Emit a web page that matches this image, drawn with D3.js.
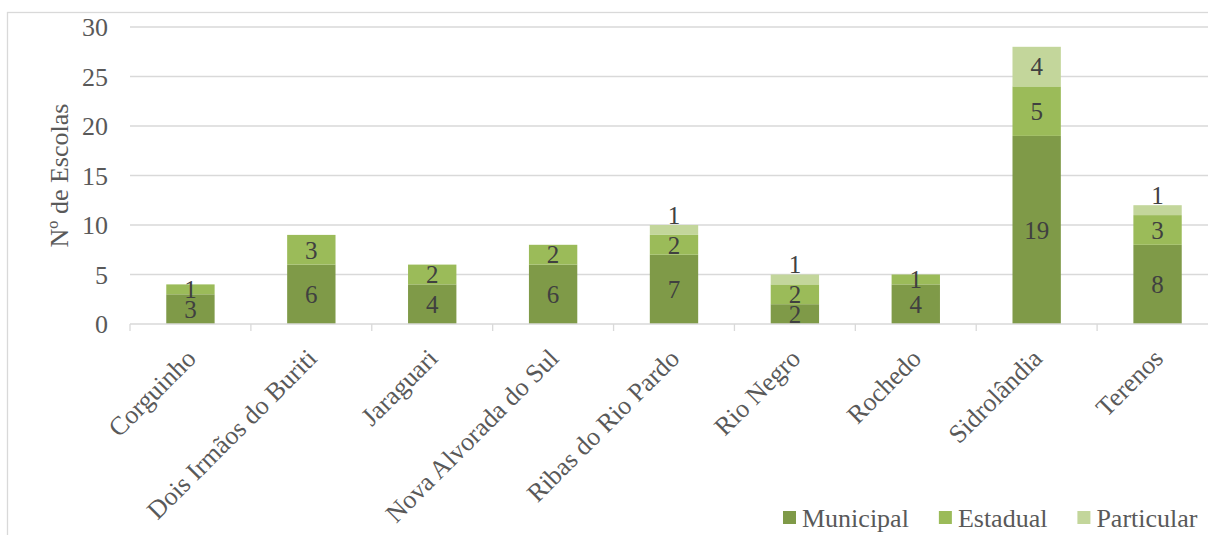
<!DOCTYPE html>
<html>
<head>
<meta charset="utf-8">
<script src="https://cdn.jsdelivr.net/npm/d3@7"></script>
<style>
  body { margin: 0; background: #fff; }
  svg { display: block; font-family: "Liberation Serif", "Times New Roman", serif; }
</style>
</head>
<body>
<div id="chart"></div>
<script>
var categories = ["Corguinho", "Dois Irmãos do Buriti", "Jaraguari", "Nova Alvorada do Sul", "Ribas do Rio Pardo", "Rio Negro", "Rochedo", "Sidrolândia", "Terenos"];
var municipal = [3, 6, 4, 6, 7, 2, 4, 19, 8];
var estadual = [1, 3, 2, 2, 2, 2, 1, 5, 3];
var particular = [0, 0, 0, 0, 1, 1, 0, 4, 1];
var seriesNames = ["Municipal", "Estadual", "Particular"];
var yTicks = [0, 5, 10, 15, 20, 25, 30];

var colors = ["#7f9a48", "#9bbb59", "#c3d69b"];
var width = 1208, height = 535;
var plot = { left: 130, right: 1218, top: 27, bottom: 324 };

var rows = categories.map(function(c, i) {
  return { cat: c, Municipal: municipal[i], Estadual: estadual[i], Particular: particular[i] };
});
var stacked = d3.stack().keys(seriesNames)(rows);

var svg = d3.select("#chart").append("svg").attr("width", width).attr("height", height);

// outer chart border
svg.append("rect").attr("x", 7.5).attr("y", 12.5).attr("width", 1240).attr("height", 600)
  .attr("fill", "none").attr("stroke", "#d9d9d9").attr("stroke-width", 1.3);

var x = d3.scaleBand().domain(categories).range([plot.left, plot.right]).paddingInner(0.6).paddingOuter(0.3);
var xb = d3.scaleBand().domain(categories).range([plot.left, plot.right]);
var y = d3.scaleLinear().domain([0, 30]).range([plot.bottom, plot.top]);

// gridlines
svg.append("g").selectAll("line").data(yTicks.slice(1)).enter().append("line")
  .attr("x1", plot.left).attr("x2", plot.right)
  .attr("y1", function(d) { return y(d); }).attr("y2", function(d) { return y(d); })
  .attr("stroke", "#d9d9d9").attr("stroke-width", 1.3);

// y tick labels
svg.append("g").selectAll("text").data(yTicks).enter().append("text")
  .attr("x", 108).attr("y", function(d) { return y(d); }).attr("dy", "0.35em")
  .attr("text-anchor", "end").attr("font-size", 26).attr("fill", "#595959")
  .text(function(d) { return d; });

// y title
svg.append("text").attr("transform", "translate(68," + ((plot.top + plot.bottom) / 2) + ") rotate(-90)")
  .attr("text-anchor", "middle").attr("font-size", 26).attr("fill", "#595959")
  .text("Nº de Escolas");

// bars
var layers = svg.append("g").selectAll("g").data(stacked).enter().append("g")
  .attr("fill", function(d, i) { return colors[i]; });
layers.selectAll("rect").data(function(d) { return d; }).enter().append("rect")
  .attr("x", function(d) { return x(d.data.cat); })
  .attr("width", x.bandwidth())
  .attr("y", function(d) { return y(d[1]); })
  .attr("height", function(d) { return y(d[0]) - y(d[1]); });

// data labels (thin top segments get their label nudged above the bar)
layers.each(function(series) {
  d3.select(this).selectAll("text").data(series.filter(function(s) { return s[1] - s[0] > 0; }))
    .enter().append("text")
    .attr("x", function(d) { return x(d.data.cat) + x.bandwidth() / 2; })
    .attr("y", function(d) {
      var h = y(d[0]) - y(d[1]);
      if (series.key === "Particular" && h < 20) return y(d[1]) - 10;
      return (y(d[0]) + y(d[1])) / 2;
    })
    .attr("dy", "0.35em").attr("text-anchor", "middle")
    .attr("font-size", 25).attr("fill", "#404040")
    .text(function(d) { return d[1] - d[0]; });
});

// x axis line + ticks
svg.append("line").attr("x1", plot.left).attr("x2", plot.right)
  .attr("y1", plot.bottom).attr("y2", plot.bottom)
  .attr("stroke", "#d9d9d9").attr("stroke-width", 1.3);
svg.append("g").selectAll("line").data(categories).enter().append("line")
  .attr("x1", function(d) { return xb(d); }).attr("x2", function(d) { return xb(d); })
  .attr("y1", plot.bottom).attr("y2", plot.bottom + 7)
  .attr("stroke", "#d9d9d9").attr("stroke-width", 1.3);

// category labels
svg.append("g").selectAll("text").data(categories).enter().append("text")
  .attr("transform", function(d) {
    return "translate(" + (xb(d) + xb.bandwidth() / 2 + 7) + "," + (plot.bottom + 36) + ") rotate(-45)";
  })
  .attr("text-anchor", "end").attr("font-size", 26).attr("fill", "#595959")
  .text(function(d) { return d; });

// legend
var legend = svg.append("g").attr("transform", "translate(783,0)");
var lx = 0;
seriesNames.forEach(function(name, i) {
  var item = legend.append("g").attr("transform", "translate(" + lx + ",0)");
  item.append("rect").attr("x", 0).attr("y", 511).attr("width", 13).attr("height", 13).attr("fill", colors[i]);
  var t = item.append("text").attr("x", 19).attr("y", 527).attr("font-size", 26).attr("fill", "#595959").text(name);
  lx += 19 + t.node().getComputedTextLength() + 30;
});
</script>
</body>
</html>
